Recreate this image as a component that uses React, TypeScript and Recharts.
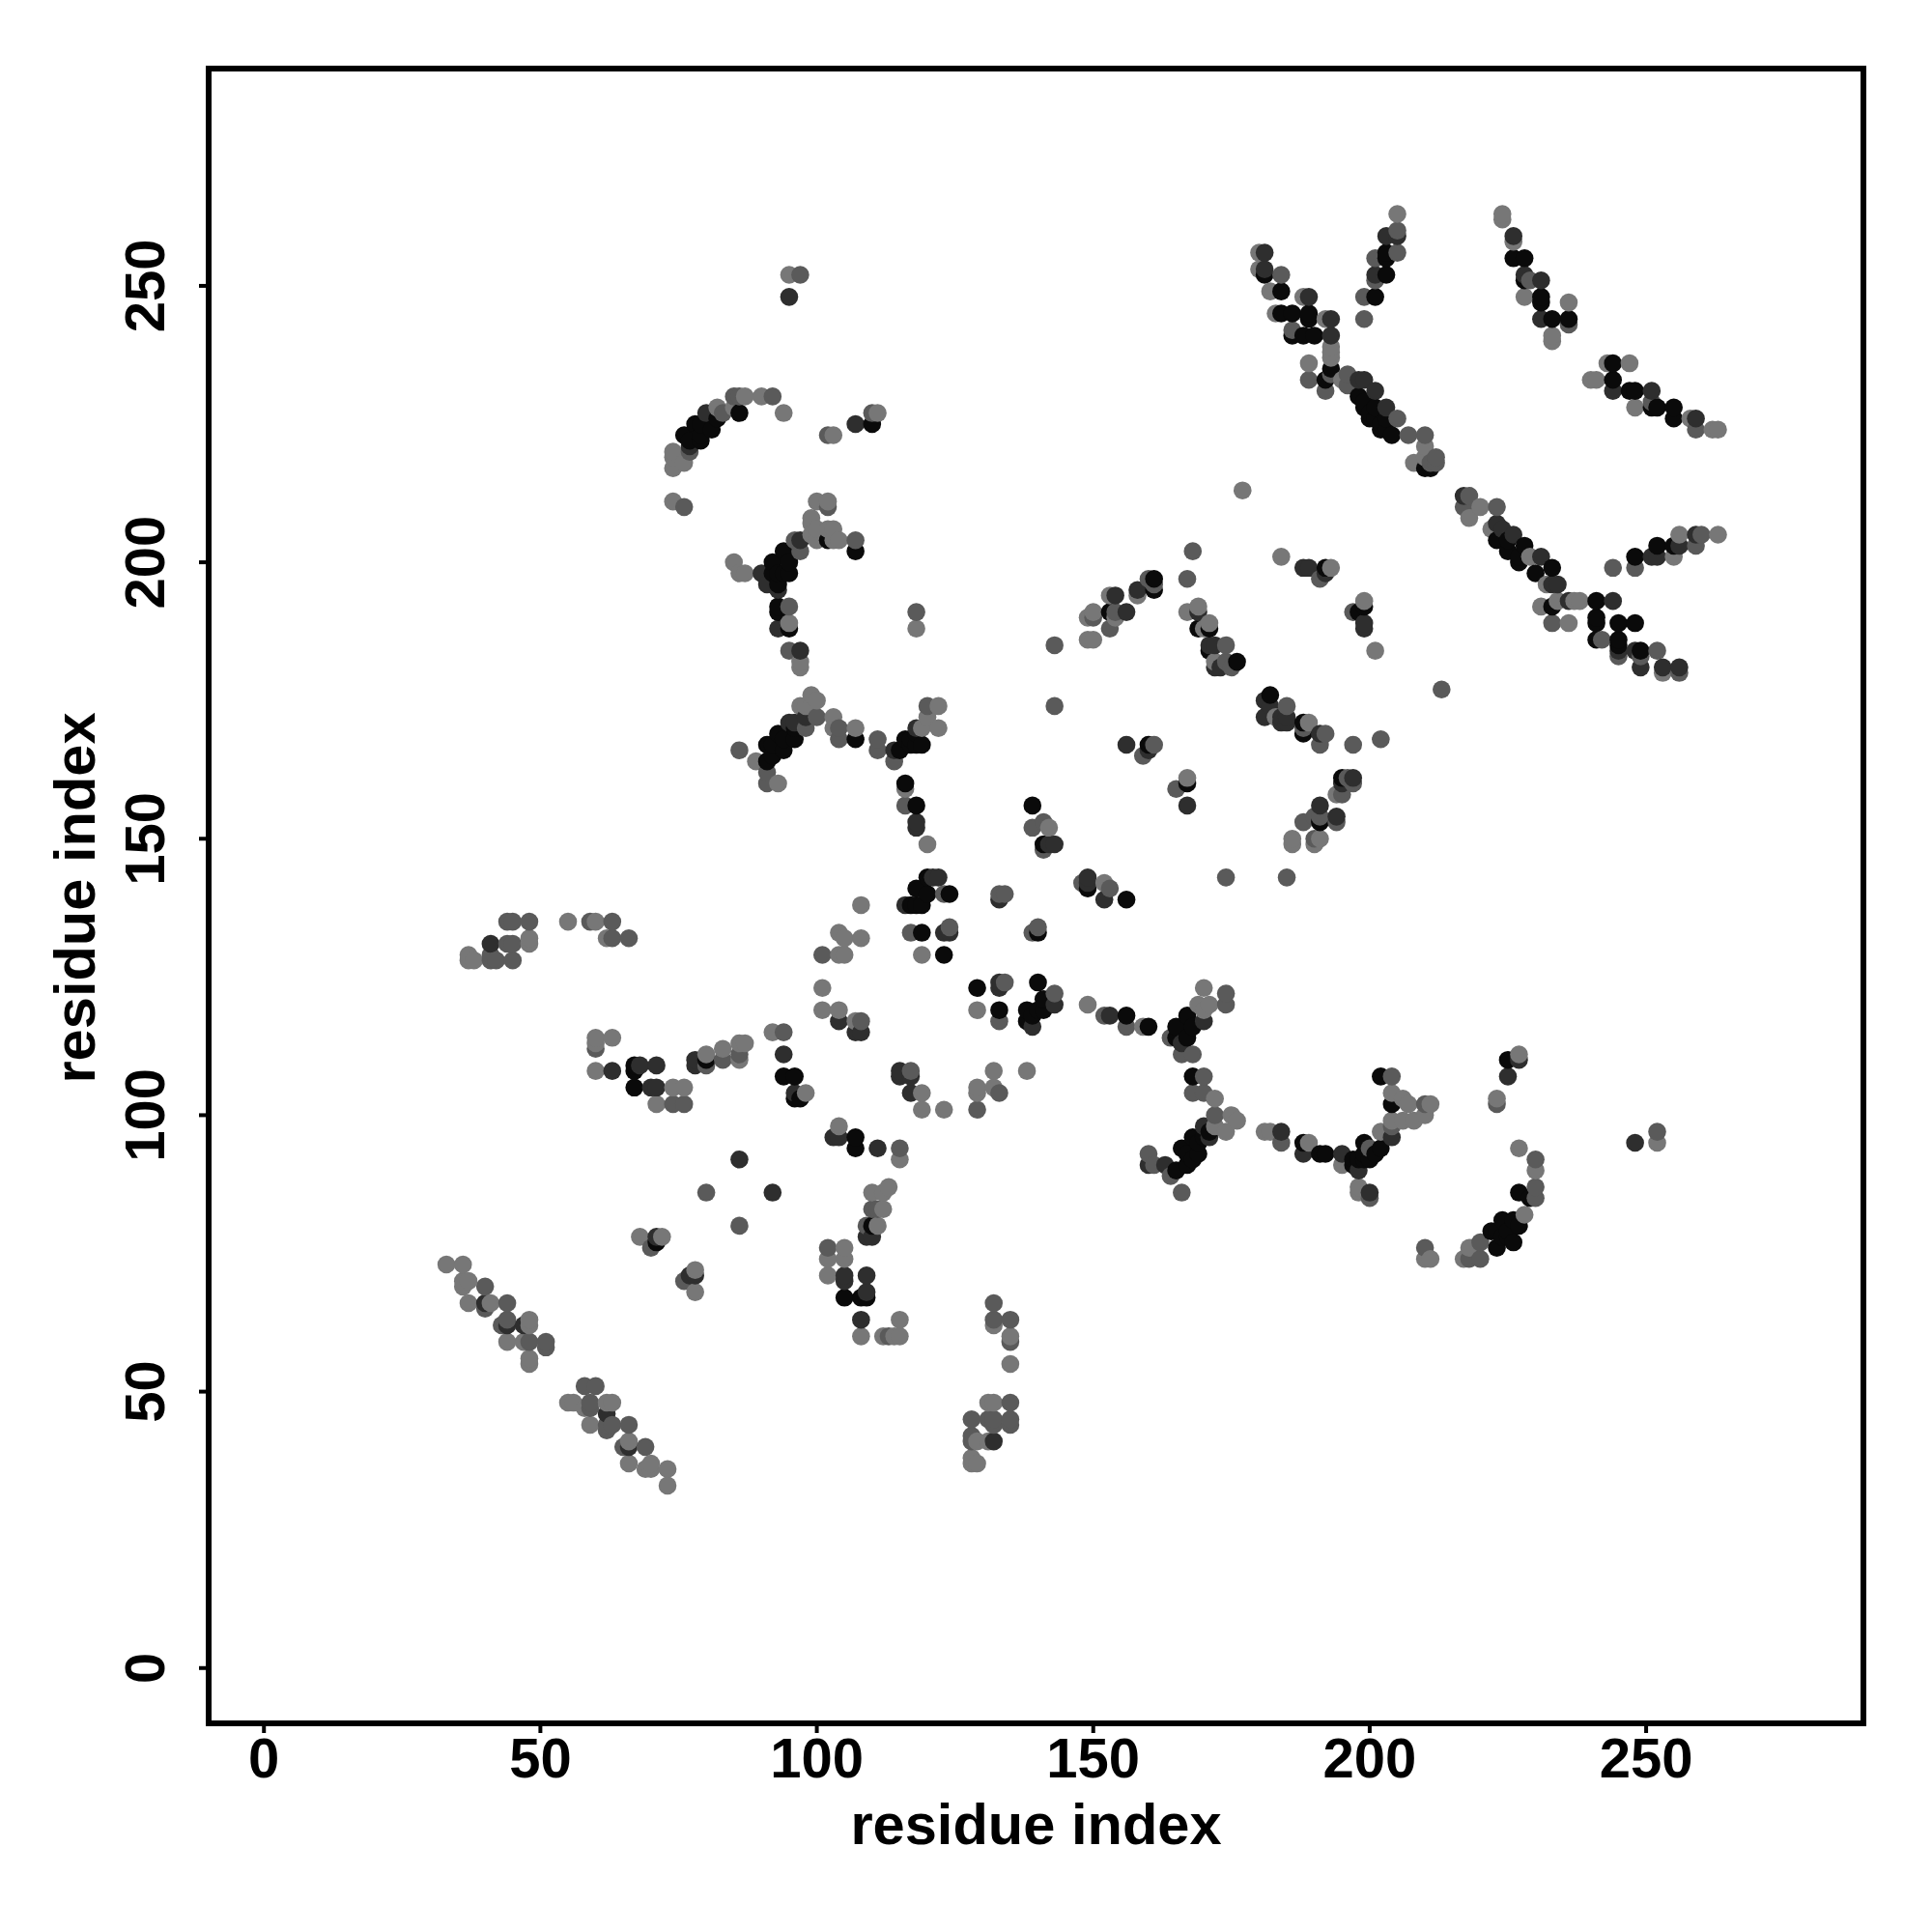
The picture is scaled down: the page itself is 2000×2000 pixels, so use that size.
import React from 'react';
import { ScatterChart, Scatter, XAxis, YAxis, ReferenceArea, Label } from 'recharts';

type P = [number, number];

const axisTicks = [0, 50, 100, 150, 200, 250];
const axisTitle = 'residue index';

const lightPoints: P[] = [
  [180,256],[180,253],[182,249],[183,245],[188,248],[192,244],[193,239],[193,238],[193,237],[189,236],[195,233],[210,221],[208,218],[210,219],
  [205,263],[224,263],[224,262],[226,258],[228,248],[236,247],[233,241],[233,240],
  [243,236],[247,236],[240,233],[241,233],[248,228],[258,226],[262,224],[263,224],
  [177,213],[184,201],[193,199],[199,193],[201,184],
  [220,210],[218,208],[222,206],[229,201],[232,196],[231,192],[234,193],[237,193],[238,193],[236,189],[253,180],
  [255,201],[256,205],[263,205],
  [95,252],[74,220],[74,219],[74,217],[76,218],[82,228],[87,230],[85,228],[90,230],[94,227],[103,223],[111,227],[74,211],[100,211],[102,211],[99,208],[99,207],[100,206],[102,206],[103,206],[99,205],[100,204],[104,204],[103,204],[95,189],[85,200],[86,198],[87,198],[97,182],[97,181],[118,188],
  [99,176],[100,175],[97,174],[98,174],[99,174],[103,172],[103,170],[107,170],[89,164],[93,160],[122,174],[120,172],[119,170],[122,170],
  [116,159],[120,149],[142,152],[108,138],[104,133],[105,132],[108,132],[104,129],[105,129],[119,129],[101,123],[101,119],[104,119],[107,117],[129,119],[149,120],[159,116],[170,123],[169,120],[171,120],[170,119],[172,103],[175,100],[176,99],[174,97],[172,98],[181,97],[182,97],[92,115],[98,104],[119,104],[119,101],[123,101],[132,108],[138,108],[129,105],[129,104],[132,105],[104,98],[115,92],[113,87],[110,86],[112,86],[112,83],[111,80],[105,76],[102,74],[105,74],[102,71],
  [48,132],[48,131],[37,129],[37,128],[38,128],[55,135],[60,135],[62,132],[60,114],[63,114],[60,113],[60,108],[74,105],[76,105],[71,102],[80,111],[83,112],[86,113],[87,113],[86,110],[68,78],[72,78],[78,72],[78,68],[33,73],[36,73],[36,70],[37,70],[36,69],[37,66],[41,66],[48,63],[48,62],[44,59],[47,59],[48,56],[48,55],
  [55,48],[56,48],[58,47],[62,48],[63,48],[59,44],[66,41],[66,37],[69,36],[70,37],[70,36],[73,36],[73,33],[115,63],[108,60],[112,60],[114,60],[115,60],[135,60],[135,55],[132,62],[131,48],[132,48],[129,41],[131,41],[128,38],[128,37],[129,37],
  [204,104],[206,103],[207,102],[204,99],[206,99],[208,99],[211,102],[210,100],[202,97],[195,91],[189,95],[198,87],[198,86],[227,111],[223,103],[227,94],[230,90],[228,82],[218,76],[217,74],[210,74],[211,74],[252,95],
  [158,194],[153,194],[154,190],[150,191],[149,190],[149,186],[150,186],[167,191],[169,192],[170,188],[171,189],[172,182],[183,172],[189,171],[194,158],[186,150],[186,149],[191,150],[190,149],[167,161],[152,142],
];

const midPoints: P[] = [
  [184,252],[186,242],[193,234],[189,233],[192,231],[196,234],[196,232],[205,226],[207,223],[210,223],[212,219],[212,218],[211,218],
  [205,260],[205,256],[201,255],[201,251],[199,248],[199,244],[229,251],[236,243],[251,229],[259,224],
  [191,197],[197,191],[218,212],[217,210],[223,210],[233,189],[242,186],[245,183],[249,183],[252,184],[256,180],
  [244,199],[248,199],[259,203],[260,205],
  [97,252],[77,220],[83,227],[85,230],[86,230],[92,230],[102,223],[110,227],[76,210],[102,210],[107,204],[96,204],[97,202],[95,192],[95,184],[118,191],
  [100,172],[98,170],[104,170],[104,168],[111,168],[111,166],[86,166],[91,160],[91,162],[120,174],[114,164],
  [116,156],[139,152],[141,153],[141,148],[101,129],[117,133],[124,134],[123,140],[133,140],[134,140],[140,134],[139,133],[108,117],[134,124],[143,122],[133,117],[156,116],[152,118],[174,122],[174,120],[164,114],[166,111],[168,111],[170,107],[168,104],[170,104],[172,100],[160,93],[161,91],[164,89],[166,86],[184,95],[94,115],[117,108],[133,104],[129,101],[115,94],[110,83],[111,83],[109,80],[102,76],
  [44,135],[45,135],[48,135],[44,131],[45,131],[41,129],[41,128],[42,128],[45,128],[59,135],[63,135],[63,132],[66,132],[60,112],[74,102],[76,102],[80,109],[83,110],[86,111],[80,86],[86,80],[70,76],[76,70],[40,69],[40,65],[44,66],[44,63],[43,62],[48,59],[51,59],[51,58],
  [58,51],[60,51],[59,48],[59,47],[62,44],[63,44],[62,43],[66,44],[65,40],[69,40],[113,60],[132,66],[132,63],[135,63],[135,59],[135,48],[128,45],[131,45],[132,45],[135,45],[135,44],[132,44],[128,42],[128,41],
  [204,107],[204,98],[210,102],[200,85],[200,94],[223,102],[230,92],[230,87],[230,85],[220,77],[220,74],[218,74],[210,76],[252,97],
  [168,202],[167,197],[160,197],[161,196],[154,191],[150,190],[153,188],[143,185],[143,174],[174,185],[174,182],[175,181],[185,174],[188,170],[192,169],[191,167],[197,167],[202,168],[161,167],[159,165],[165,159],[196,161],[197,160],[195,158],[191,154],[194,153],[188,153],[190,154],[190,150],[213,177],[174,143],[185,143],[148,142],[153,141],
];

const darkPoints: P[] = [
  [181,256],[181,253],[189,248],[193,244],[193,241],[198,233],[199,233],[201,231],[203,228],
  [203,259],[205,259],[201,252],[226,259],[228,252],[231,251],[231,244],[244,231],[251,231],[259,226],
  [188,199],[189,199],[192,198],[199,189],[199,188],
  [217,212],[223,207],[224,206],[226,205],[231,201],[233,196],[234,196],[236,193],[244,193],[245,184],[248,184],[249,181],[253,181],[256,181],
  [251,201],[252,201],[256,203],[259,205],
  [95,248],[77,221],[80,227],[107,225],[97,204],[90,198],[93,195],[93,188],[97,184],[91,196],
  [98,172],[95,171],[96,171],[118,170],[114,166],
  [118,153],[118,152],[142,149],[143,149],[121,143],[122,143],[116,138],[123,133],[124,133],[133,139],[104,117],[107,115],[108,115],[133,123],[133,124],[143,120],[139,116],[153,118],[170,117],[166,113],[170,98],[171,96],[160,91],[163,91],[184,97],[94,111],[96,104],[115,108],[115,107],[117,107],[117,104],[103,96],[104,96],[111,94],[92,86],[109,78],[110,78],[105,71],[109,71],[105,70],[109,68],
  [41,131],[63,108],[68,109],[71,109],[70,105],[71,105],[78,110],[78,109],[71,78],[77,71],[78,71],[86,92],[40,66],[44,62],[47,62],
  [62,46],[66,40],[108,63],[132,41],
  [204,96],[188,93],[195,93],[198,90],[200,86],[225,107],[227,110],[248,95],
  [158,195],[154,194],[156,191],[169,191],[171,185],[172,185],[172,181],[173,181],[181,175],[182,174],[181,172],[184,172],[185,172],[184,171],[185,171],[191,169],[156,167],[160,166],[167,156],[195,160],[194,154],[191,156],[197,161],[149,143],[149,142],[152,139],
];

const blackPoints: P[] = [
  [181,252],[184,249],[184,245],[186,245],[189,245],[189,244],[186,241],[188,241],[190,241],[193,235],[192,233],[198,230],[199,229],[200,227],[202,225],[204,223],[201,228],[203,226],[210,217],[211,217],
  [203,256],[203,255],[203,252],[201,248],[226,255],[228,255],[228,251],[231,248],[231,247],[233,244],[236,244],
  [244,236],[244,233],[247,231],[248,231],[251,228],[252,228],[255,228],[255,226],
  [192,199],[199,192],[198,191],
  [223,204],[225,202],[228,203],[227,200],[230,198],[233,199],[233,192],[241,193],[241,190],[241,189],[245,189],[248,189],[241,186],[245,186],[245,185],[249,184],
  [248,201],[252,203],[255,203],
  [110,225],[76,223],[78,225],[79,222],[81,224],[86,227],[79,223],[102,204],[107,202],[94,202],[95,200],[92,200],[94,198],[92,198],[93,196],[93,192],[93,191],[95,188],
  [93,169],[96,168],[91,167],[94,166],[92,167],[91,164],[107,168],[116,168],[115,166],[117,168],[118,169],[116,160],
  [118,156],[139,156],[141,149],[149,141],[156,139],[117,138],[118,138],[119,138],[118,141],[120,143],[120,140],[124,140],[119,133],[123,129],[140,133],[129,123],[140,124],[141,121],[140,119],[138,119],[138,117],[139,118],[141,119],[133,119],[156,118],[160,116],[167,118],[168,116],[165,116],[165,114],[167,114],[168,107],[168,96],[169,93],[166,94],[167,91],[165,90],[94,107],[96,107],[96,103],[97,103],[107,96],[107,94],[110,80],
  [67,109],[67,108],[67,105],[80,110],[71,77],[105,67],[109,67],[108,67],
  [204,102],[188,95],[191,93],[192,93],[197,92],[197,91],[199,95],[200,92],[202,94],[202,107],[225,110],[229,85],[227,86],[227,80],[225,78],[224,81],[222,79],[223,76],
  [161,197],[161,195],[153,191],[169,188],[171,188],[171,184],[176,182],[182,176],[188,171],[188,169],[160,167],[167,160],[195,161],[191,153],
  [200,226],[202,224],[226,77],[225,79],[223,79],[226,81],[224,78],[170,96],[169,95],[171,97],[167,93],[168,92],[199,93],[201,93],[199,92],[198,92],
  [77,222],[79,225],[82,226],[93,198],[95,198],[96,170],[94,168],[92,165],[117,167],[118,167],[119,167],[225,204],[227,201],[199,228],[201,226],[203,224],
];

const SHADES = { light: '#777777', mid: '#5a5a5a', dark: '#2e2e2e', black: '#0a0a0a' };
const FONT = '"Liberation Sans", Arial, sans-serif';

const withShade = (pts: P[], shade: string) => pts.map(([x, y]) => ({ x, y, shade }));
// Points are painted in ascending x, then y, as in the reference.
const table = [
  ...withShade(lightPoints, SHADES.light),
  ...withShade(midPoints, SHADES.mid),
  ...withShade(darkPoints, SHADES.dark),
  ...withShade(blackPoints, SHADES.black),
].sort((a, b) => a.x - b.x || a.y - b.y);

const drawDot = (p: any) => <circle key={`${p.payload.x}-${p.payload.y}-${p.payload.shade}`} cx={p.cx} cy={p.cy} r={9.3} fill={p.payload.shade} />;

const XTick = (p: any) => (
  <text x={p.x} y={p.y + 46} textAnchor="middle" fontFamily={FONT} fontWeight={700} fontSize={58} fill="#000">
    {p.payload.value}
  </text>
);

const YTick = (p: any) => (
  <text
    x={p.x - 36}
    y={p.y}
    transform={`rotate(-90 ${p.x - 36} ${p.y})`}
    textAnchor="middle"
    fontFamily={FONT}
    fontWeight={700}
    fontSize={58}
    fill="#000"
  >
    {p.payload.value}
  </text>
);

const XTitle = (p: any) => (
  <text x={p.viewBox.x + p.viewBox.width / 2} y={1909} textAnchor="middle" fontFamily={FONT} fontWeight={700} fontSize={59.6} fill="#000">
    {axisTitle}
  </text>
);

const YTitle = (p: any) => {
  const cy = p.viewBox.y + p.viewBox.height / 2 + 2;
  return (
    <text x={98} y={cy} transform={`rotate(-90 98 ${cy})`} textAnchor="middle" fontFamily={FONT} fontWeight={700} fontSize={59.6} fill="#000">
      {axisTitle}
    </text>
  );
};

const DOMAIN: [number, number] = [-10, 289.3];

export default function App() {
  return (
    <div style={{ position: 'absolute', left: 0, top: 0, width: 2000, height: 2000, background: '#fff' }}>
      <ScatterChart width={2000} height={2000} margin={{ top: 71, right: 71, bottom: 0, left: 0 }}>
        <XAxis
          type="number"
          dataKey="x"
          domain={DOMAIN}
          ticks={axisTicks}
          height={216}
          axisLine={false}
          tickSize={10}
          tickMargin={0}
          tickLine={{ stroke: '#000', strokeWidth: 4 }}
          tick={<XTick />}
          interval={0}
        >
          <Label content={<XTitle />} />
        </XAxis>
        <YAxis
          type="number"
          dataKey="y"
          domain={DOMAIN}
          ticks={axisTicks}
          width={216}
          axisLine={false}
          tickSize={10}
          tickMargin={0}
          tickLine={{ stroke: '#000', strokeWidth: 4 }}
          tick={<YTick />}
          interval={0}
        >
          <Label content={<YTitle />} />
        </YAxis>
        <Scatter data={table} shape={drawDot} isAnimationActive={false} />
        <ReferenceArea x1={DOMAIN[0]} x2={DOMAIN[1]} y1={DOMAIN[0]} y2={DOMAIN[1]} fill="none" stroke="#000" strokeWidth={6} ifOverflow="visible" />
      </ScatterChart>
    </div>
  );
}
